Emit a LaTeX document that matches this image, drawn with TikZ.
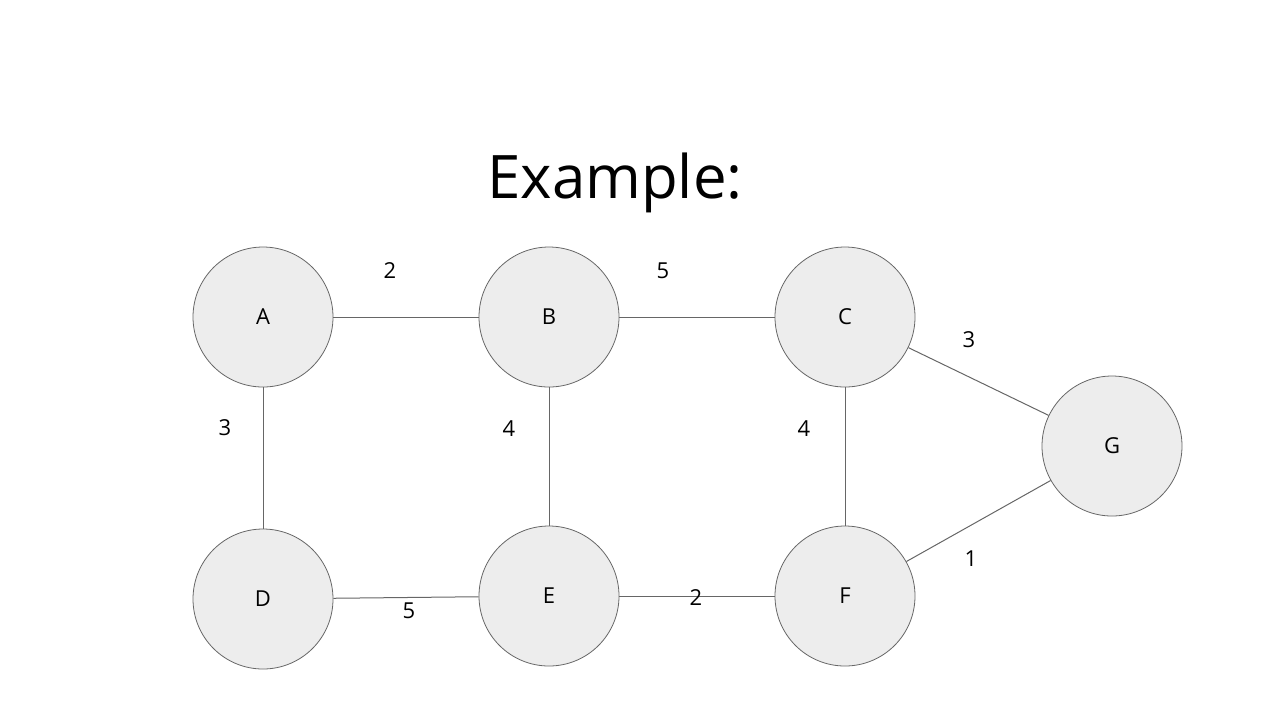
\documentclass[tikz,border=0pt]{standalone}
\usepackage{fontspec}
\setmainfont{Open Sans}
\begin{document}
\begin{tikzpicture}[x=0.5pt,y=-0.5pt,
  nd/.style={circle,draw=black!60,fill=black!7,minimum size=70pt,inner sep=0pt,font=\fontsize{11}{13}\selectfont},
  ed/.style={draw=black!60,line width=0.5pt},
  lb/.style={font=\fontsize{11}{13}\selectfont}]
\useasboundingbox (0,0) rectangle (1280,720);
\node[font=\fontsize{30}{36}\selectfont] (t) at (615,183) {Example:};
\node[nd] (A) at (263,317) {A};
\node[nd] (B) at (549,317) {B};
\node[nd] (C) at (845,317) {C};
\node[nd] (G) at (1112,446) {G};
\node[nd] (D) at (263,599) {D};
\node[nd] (E) at (549,596) {E};
\node[nd] (F) at (845,596) {F};
\draw[ed] (A) -- (B);
\draw[ed] (B) -- (C);
\draw[ed] (C) -- (G);
\draw[ed] (A) -- (D);
\draw[ed] (B) -- (E);
\draw[ed] (C) -- (F);
\draw[ed] (D) -- (E);
\draw[ed] (E) -- (F);
\draw[ed] (F) -- (G);
\node[lb] (l1) at (390,271) {2};
\node[lb] (l2) at (663,271) {5};
\node[lb] (l3) at (969,340) {3};
\node[lb] (l4) at (225,428) {3};
\node[lb] (l5) at (509,429) {4};
\node[lb] (l6) at (804,429) {4};
\node[lb] (l7) at (409,611) {5};
\node[lb] (l8) at (696,598) {2};
\node[lb] (l9) at (971,559) {1};
\end{tikzpicture}
\end{document}
